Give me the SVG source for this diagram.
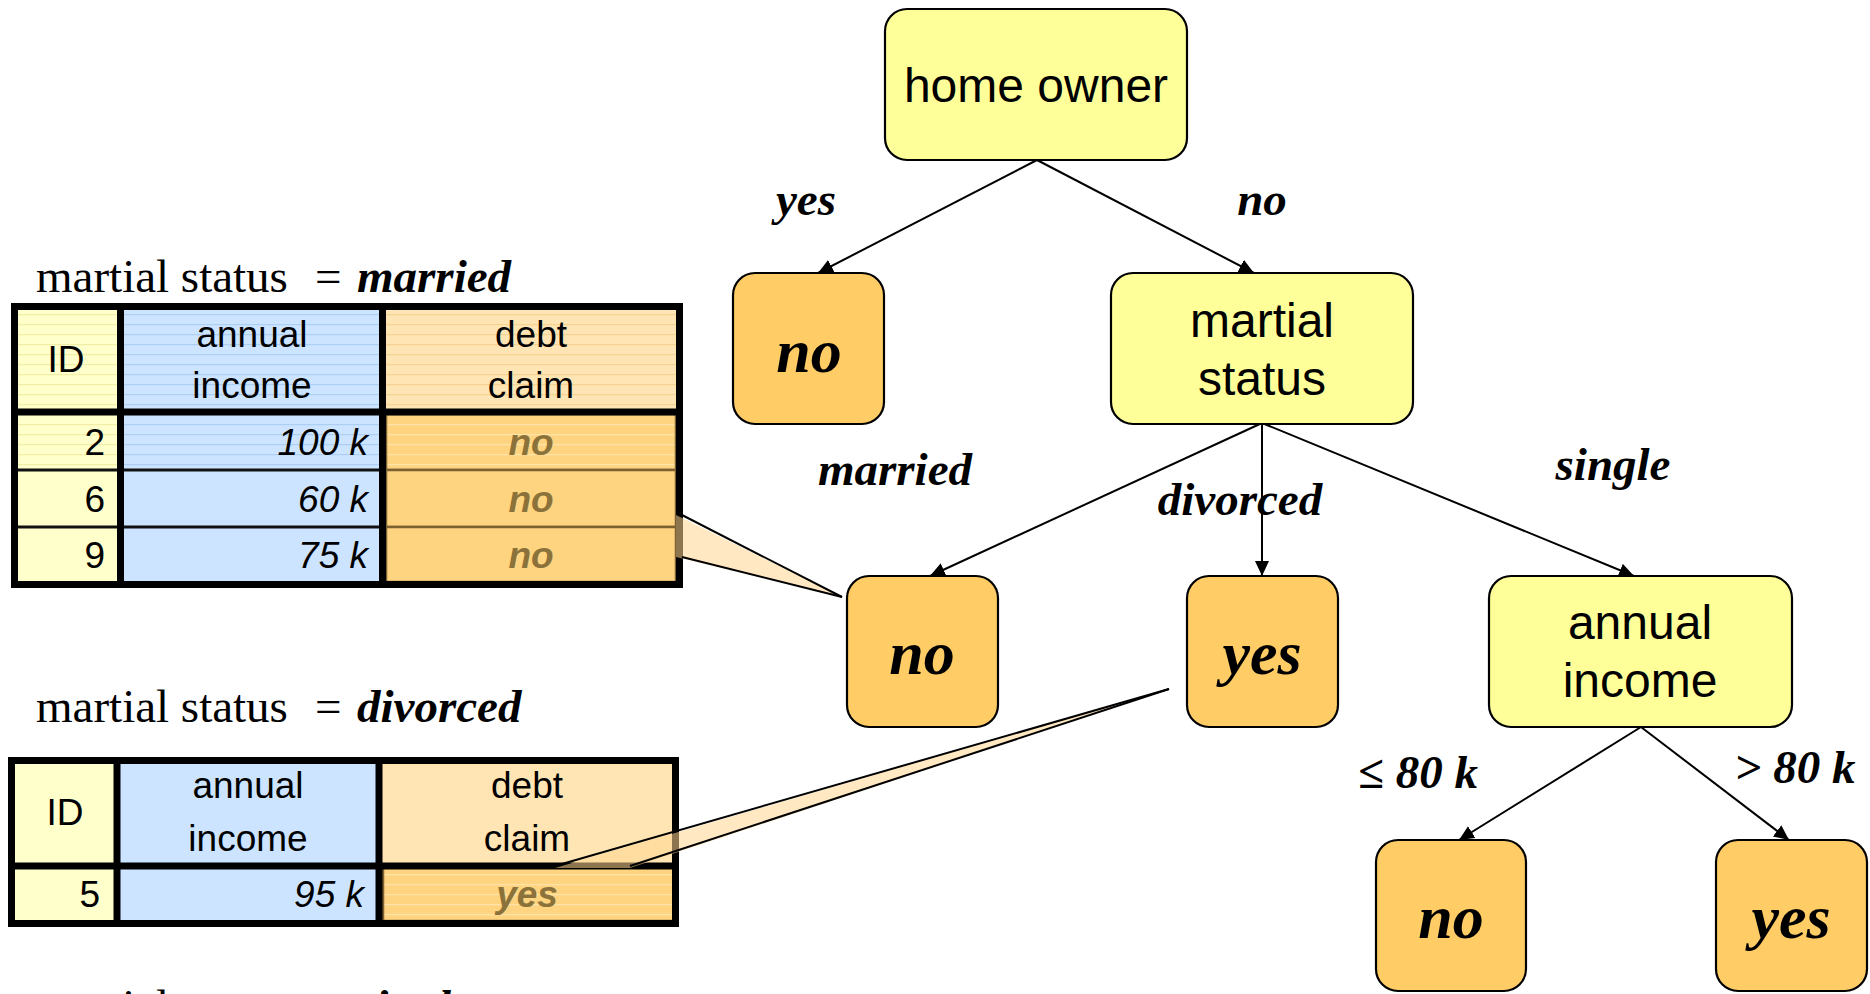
<svg xmlns="http://www.w3.org/2000/svg" width="1870" height="994" viewBox="0 0 1870 994">
  <style>
    .dec { fill: #FFFF99; stroke: #000; stroke-width: 2.2; }
    .leaf { fill: #FFCC66; stroke: #000; stroke-width: 2.2; }
    .ntext { font-family: "Liberation Sans", Arial, sans-serif; font-size: 48px; text-anchor: middle; fill: #000; }
    .ltext { font-family: "Liberation Serif", "Times New Roman", serif; font-weight: bold; font-style: italic; font-size: 62px; text-anchor: middle; fill: #000; }
    .elabel { font-family: "Liberation Serif", "Times New Roman", serif; font-weight: bold; font-style: italic; font-size: 47px; text-anchor: middle; fill: #000; }
    .edge { stroke: #000; stroke-width: 2; fill: none; marker-end: url(#arrow); }
    .title { font-family: "Liberation Serif", "Times New Roman", serif; font-size: 47px; fill: #000; }
    .bi { font-weight: bold; font-style: italic; }
    .cell { font-family: "Liberation Sans", Arial, sans-serif; font-size: 37px; fill: #000; }
    .mid { text-anchor: middle; }
    .end { text-anchor: end; }
    .num { font-style: italic; }
    .val { font-weight: bold; font-style: italic; fill: #8A723A; }
    .thick { stroke: #000; stroke-width: 7; fill: none; }
    .thin { stroke: #111; stroke-width: 3; }
    .claim { fill: #FFD480; stroke: #7B6230; stroke-width: 2.5; }
    .pointer { fill: #FFD58F; fill-opacity: 0.55; stroke: none; }
    .pedge { stroke: #000; stroke-width: 2; }
  </style>
  <defs>
    <marker id="arrow" markerUnits="userSpaceOnUse" markerWidth="16" markerHeight="16" refX="15" refY="7" orient="auto">
      <path d="M0,0 L15,7 L0,14 z" fill="#000"/>
    </marker>
    <pattern id="stripeY" width="10" height="10" patternUnits="userSpaceOnUse">
      <rect width="10" height="10" fill="#FFFFCC"/>
      <rect y="4" width="10" height="1.2" fill="#F2EEA6"/>
    </pattern>
    <pattern id="stripeB" width="10" height="10" patternUnits="userSpaceOnUse">
      <rect width="10" height="10" fill="#CCE4FF"/>
      <rect y="4" width="10" height="1.2" fill="#ADCFF3"/>
    </pattern>
    <pattern id="stripeO" width="10" height="10" patternUnits="userSpaceOnUse">
      <rect width="10" height="10" fill="#FFE5B4"/>
      <rect y="4" width="10" height="1.2" fill="#F6D393"/>
    </pattern>
    <pattern id="stripeD" width="10" height="10" patternUnits="userSpaceOnUse">
      <rect width="10" height="10" fill="#FFD480"/>
      <rect y="4" width="10" height="1.2" fill="#FFE3A8"/>
    </pattern>
  </defs>

  <rect width="1870" height="994" fill="#FFFFFF"/>

  <!-- connectors of the decision tree -->
  <g id="connectors">
    <line class="edge" x1="1037" y1="160" x2="818" y2="273"/>
    <line class="edge" x1="1037" y1="160" x2="1254" y2="273"/>
    <line class="edge" x1="1262" y1="423" x2="930" y2="576"/>
    <line class="edge" x1="1262" y1="423" x2="1262" y2="576"/>
    <line class="edge" x1="1262" y1="423" x2="1634" y2="576"/>
    <line class="edge" x1="1641" y1="727" x2="1459" y2="840"/>
    <line class="edge" x1="1641" y1="727" x2="1789" y2="840"/>
    <text class="elabel" x="806" y="215">yes</text>
    <text class="elabel" x="1262" y="215">no</text>
    <text class="elabel" x="895" y="485">married</text>
    <text class="elabel" x="1240" y="515">divorced</text>
    <text class="elabel" x="1613" y="480">single</text>
    <text class="elabel" x="1418" y="788">≤ 80 k</text>
    <text class="elabel" x="1795" y="783">&gt; 80 k</text>
  </g>

  <!-- tree nodes -->
  <g id="node-home-owner">
    <rect class="dec" x="885" y="9" width="302" height="151" rx="22"/>
    <text class="ntext" x="1036" y="102">home owner</text>
  </g>
  <g id="node-leaf-no-1">
    <rect class="leaf" x="733" y="273" width="151" height="151" rx="22"/>
    <text class="ltext" x="809" y="372">no</text>
  </g>
  <g id="node-martial-status">
    <rect class="dec" x="1111" y="273" width="302" height="151" rx="22"/>
    <text class="ntext" x="1262" y="337">martial</text>
    <text class="ntext" x="1262" y="395">status</text>
  </g>
  <g id="node-leaf-no-2">
    <rect class="leaf" x="847" y="576" width="151" height="151" rx="22"/>
    <text class="ltext" x="922" y="674">no</text>
  </g>
  <g id="node-leaf-yes-2">
    <rect class="leaf" x="1187" y="576" width="151" height="151" rx="22"/>
    <text class="ltext" x="1262" y="674">yes</text>
  </g>
  <g id="node-annual-income">
    <rect class="dec" x="1489" y="576" width="303" height="151" rx="22"/>
    <text class="ntext" x="1640" y="639">annual</text>
    <text class="ntext" x="1640" y="697">income</text>
  </g>
  <g id="node-leaf-no-3">
    <rect class="leaf" x="1376" y="840" width="150" height="151" rx="22"/>
    <text class="ltext" x="1451" y="938">no</text>
  </g>
  <g id="node-leaf-yes-3">
    <rect class="leaf" x="1716" y="840" width="151" height="151" rx="22"/>
    <text class="ltext" x="1791" y="938">yes</text>
  </g>

  <!-- subset table: martial status = married -->
  <g id="table-married">
    <text class="title" x="36" y="292">martial status<tspan x="315">=</tspan><tspan class="bi" x="357">married</tspan></text>
    <rect x="11" y="303" width="110" height="168" fill="url(#stripeY)"/>
    <rect x="11" y="471" width="110" height="117" fill="#FFFFCC"/>
    <rect x="121" y="303" width="262" height="168" fill="url(#stripeB)"/>
    <rect x="121" y="471" width="262" height="117" fill="#CCE4FF"/>
    <rect x="383" y="303" width="300" height="110" fill="url(#stripeO)"/>
    <rect class="claim" x="386" y="414" width="290" height="56" style="fill:url(#stripeD)"/>
    <rect class="claim" x="386" y="470" width="290" height="57"/>
    <rect class="claim" x="386" y="527" width="290" height="55"/>
    <line class="thin" x1="11" y1="470" x2="384" y2="470"/>
    <line class="thin" x1="11" y1="527" x2="384" y2="527"/>
    <line class="thick" x1="11" y1="412" x2="683" y2="412"/>
    <line class="thick" x1="120.5" y1="303" x2="120.5" y2="588"/>
    <line class="thick" x1="382.5" y1="303" x2="382.5" y2="588"/>
    <rect class="thick" x="14.5" y="306.5" width="665" height="278"/>
    <text class="cell mid" x="66" y="372">ID</text>
    <text class="cell mid" x="252" y="347">annual</text>
    <text class="cell mid" x="252" y="398">income</text>
    <text class="cell mid" x="531" y="347">debt</text>
    <text class="cell mid" x="531" y="398">claim</text>
    <text class="cell end" x="105" y="455">2</text>
    <text class="cell end num" x="368" y="455">100 k</text>
    <text class="cell mid val" x="531" y="455">no</text>
    <text class="cell end" x="105" y="512">6</text>
    <text class="cell end num" x="368" y="512">60 k</text>
    <text class="cell mid val" x="531" y="512">no</text>
    <text class="cell end" x="105" y="568">9</text>
    <text class="cell end num" x="368" y="568">75 k</text>
    <text class="cell mid val" x="531" y="568">no</text>
    <!-- callout pointer to the leaf it belongs to -->
    <polygon class="pointer" points="676,515 842,597 676,557"/>
    <line class="pedge" x1="682" y1="515" x2="842" y2="597"/>
    <line class="pedge" x1="682" y1="557" x2="842" y2="597"/>
  </g>

  <!-- subset table: martial status = divorced -->
  <g id="table-divorced">
    <text class="title" x="36" y="722">martial status<tspan x="315">=</tspan><tspan class="bi" x="357">divorced</tspan></text>
    <rect x="8" y="757" width="110" height="170" fill="#FFFFCC"/>
    <rect x="118" y="757" width="262" height="170" fill="#CCE4FF"/>
    <rect x="380" y="757" width="299" height="109" fill="#FFE5B4"/>
    <rect class="claim" x="383" y="867" width="291" height="54" style="fill:url(#stripeD)"/>
    <line class="thick" x1="8" y1="866" x2="679" y2="866"/>
    <line class="thick" x1="117" y1="757" x2="117" y2="927"/>
    <line class="thick" x1="379" y1="757" x2="379" y2="927"/>
    <rect class="thick" x="11.5" y="760.5" width="664" height="163"/>
    <text class="cell mid" x="65" y="825">ID</text>
    <text class="cell mid" x="248" y="798">annual</text>
    <text class="cell mid" x="248" y="851">income</text>
    <text class="cell mid" x="527" y="798">debt</text>
    <text class="cell mid" x="527" y="851">claim</text>
    <text class="cell end" x="100" y="907">5</text>
    <text class="cell end num" x="364" y="907">95 k</text>
    <text class="cell mid val" x="527" y="907">yes</text>
    <polygon class="pointer" points="555,868 1169,689 630,868"/>
    <line class="pedge" x1="555" y1="866" x2="1169" y2="689"/>
    <line class="pedge" x1="630" y1="866" x2="1169" y2="689"/>
  </g>

  <!-- subset caption for the third branch, running off the lower edge -->
  <g id="table-single">
    <text class="title" x="36" y="1022">martial status<tspan x="315">=</tspan><tspan class="bi" x="357">single</tspan></text>
  </g>
</svg>
